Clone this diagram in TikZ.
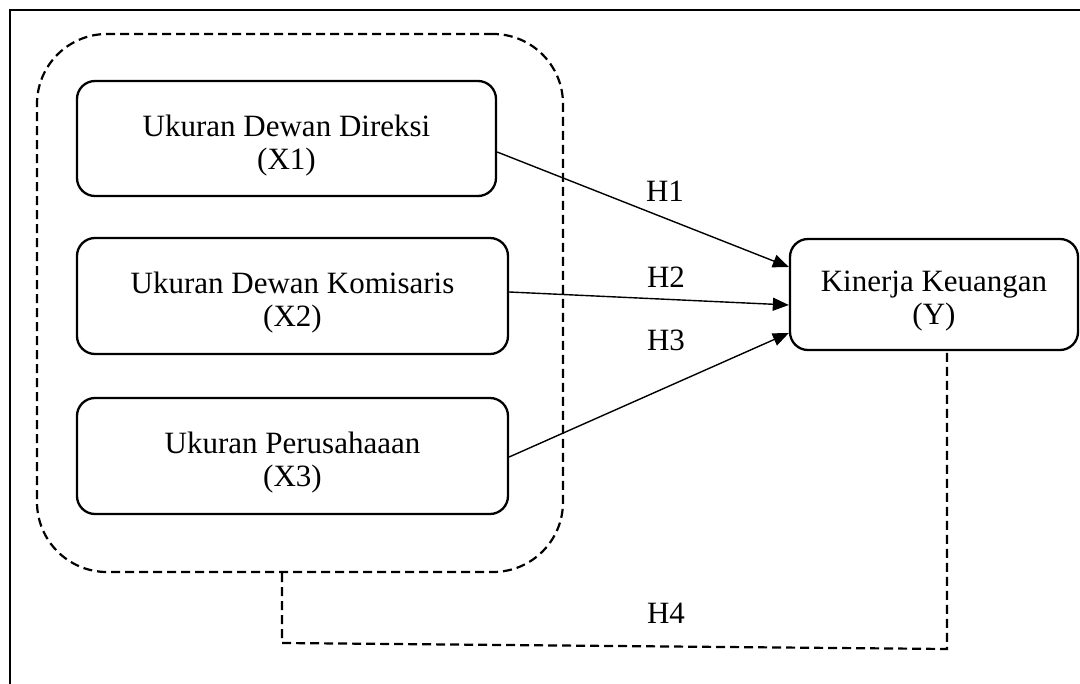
\documentclass[tikz,border=0pt]{standalone}
\usepackage{fontspec}
\setmainfont{Liberation Serif}
\usetikzlibrary{arrows.meta}
\begin{document}
\begin{tikzpicture}[x=1pt,y=-1pt,
  varbox/.style={draw, line width=2.3pt, rounded corners=18pt, inner sep=0pt},
  vartext/.style={align=center, inner sep=0pt, font=\fontsize{31}{33}\selectfont},
  groupbox/.style={draw, line width=2.2pt, rounded corners=70pt, dash pattern=on 9pt off 5pt, inner sep=0pt},
  hyparrow/.style={line width=1.4pt, -{Triangle[length=16pt,width=13pt]}},
  dashline/.style={line width=2.2pt, dash pattern=on 9pt off 5pt},
  hlabel/.style={font=\fontsize{31}{36}\selectfont, inner sep=0pt},
  frame/.style={line width=2pt}]
\useasboundingbox (0,0) rectangle (1080,684);
\fill[white] (0,0) rectangle (1080,684);
% outer frame (cut at right and bottom)
\coordinate (fbl) at (10,684);
\coordinate (ftl) at (10,10);
\coordinate (ftr) at (1080,10);
\draw[frame] (fbl) -- (ftl) -- (ftr);
% group container
\node[groupbox, minimum width=526pt, minimum height=538pt] (C) at (300,303) {};
% variable boxes
\node[varbox, minimum width=419pt, minimum height=115pt] (X1) at (286.5,138.5) {};
\node[varbox, minimum width=431pt, minimum height=116pt] (X2) at (292.5,296) {};
\node[varbox, minimum width=431pt, minimum height=116pt] (X3) at (292.5,456) {};
\node[varbox, minimum width=288pt, minimum height=111pt] (Y) at (934,294.5) {};
\node[vartext] (X1t) at ([yshift=-7pt]X1.center) {Ukuran Dewan Direksi\\(X1)};
\node[vartext] (X2t) at ([yshift=-7pt]X2.center) {Ukuran Dewan Komisaris\\(X2)};
\node[vartext] (X3t) at ([yshift=-7pt]X3.center) {Ukuran Perusahaaan\\(X3)};
\node[vartext] (Yt) at ([yshift=-7pt]Y.center) {Kinerja Keuangan\\(Y)};
% hypothesis arrows
\draw[hyparrow] ([yshift=-13.5pt]X1.east) -- ([yshift=27.5pt]Y.west);
\draw[hyparrow] ([yshift=4pt]X2.east) -- ([yshift=-10.5pt]Y.west);
\draw[hyparrow] ([yshift=-1pt]X3.east) -- ([yshift=-38.5pt]Y.west);
\node[hlabel] (H1) at (665,191) {H1};
\node[hlabel] (H2) at (666,277) {H2};
\node[hlabel] (H3) at (666,340) {H3};
% H4 dashed connector
\coordinate (h4l) at (282,643);
\coordinate (h4r) at (947,649);
\draw[dashline] ([xshift=-18pt]C.south) -- (h4l) -- (h4r) -- ([xshift=13pt]Y.south);
\node[hlabel] (H4) at (666,613) {H4};
\end{tikzpicture}
\end{document}
